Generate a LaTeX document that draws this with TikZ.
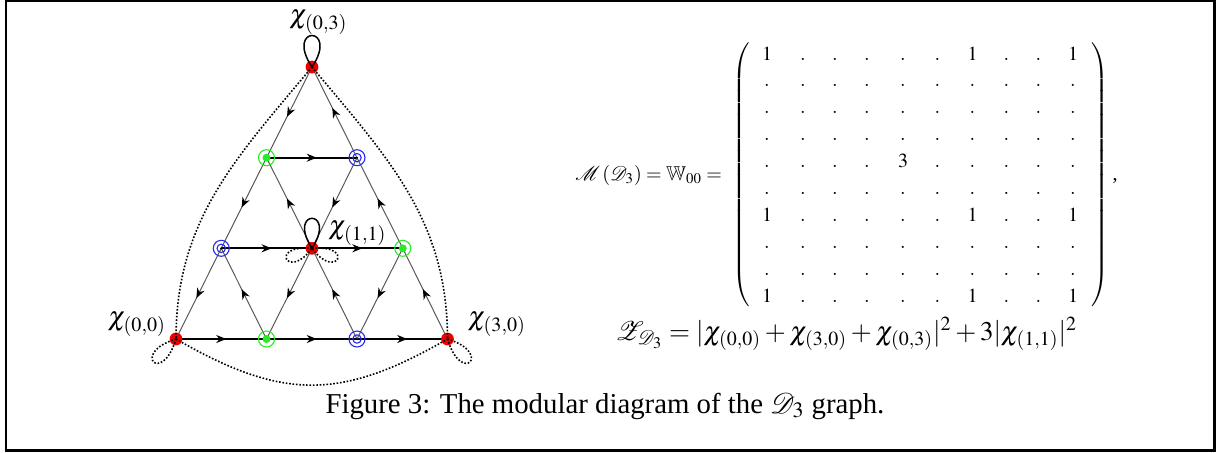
\documentclass[tikz,border=0pt]{standalone}
\usepackage{mathptmx}
\usepackage{amssymb}
\usepackage{fontspec}
\setmainfont{Liberation Serif}
\usetikzlibrary{arrows.meta,decorations.markings,backgrounds}
\definecolor{cred}{RGB}{238,0,0}
\definecolor{cgreen}{RGB}{40,235,40}
\definecolor{cblue}{RGB}{40,40,240}
\begin{document}
\begin{tikzpicture}[x=0.5pt,y=-0.5pt,
  vtxred/.style={circle,fill=cred,inner sep=0pt,minimum size=6.4pt},
  vtxgreen/.style={circle,draw=cgreen,line width=0.55pt,inner sep=0pt,minimum size=8pt,
    path picture={\fill[cgreen] (path picture bounding box.center) circle (2pt);}},
  vtxblue/.style={circle,draw=cblue,line width=0.55pt,inner sep=0pt,minimum size=8pt,
    path picture={\draw[cblue,line width=0.55pt] (path picture bounding box.center) circle (2.1pt);
      \fill[black] (path picture bounding box.center) circle (0.6pt);}},
  midarr/.style={postaction={decorate},decoration={markings,
    mark=at position 0.5 with {\arrow[xshift=2.5pt]{Stealth[length=5pt,width=4pt,color=black]}}}},
  hedge/.style={line width=1.1pt,black,midarr},
  dedge/.style={line width=0.5pt,black!65,midarr},
  loopsolid/.style={line width=0.75pt,black},
  loopdot/.style={line width=0.8pt,black,dash pattern=on 0.8pt off 0.9pt},
  outer/.style={line width=0.8pt,black,dash pattern=on 0.8pt off 0.9pt},
  lab/.style={font=\fontsize{13.6}{16}\selectfont,inner sep=0pt},
  ent/.style={anchor=base,inner sep=0pt,font=\fontsize{10}{12}\selectfont}]
\useasboundingbox (0,0) rectangle (1217,452);
\draw[line width=1.1pt] (6,1.2) rectangle (1214.5,450.5);

% vertices
\node[vtxred]   (n03) at (312,67) {};
\node[vtxgreen] (g1)  at (266.5,157.7) {};
\node[vtxblue]  (b1)  at (357,157.7) {};
\node[vtxblue]  (b2)  at (221.25,248.3) {};
\node[vtxred]   (n11) at (312,248.3) {};
\node[vtxgreen] (g2)  at (402.75,248.3) {};
\node[vtxred]   (n00) at (176,339) {};
\node[vtxgreen] (g3)  at (266.5,339) {};
\node[vtxblue]  (b3)  at (357,339) {};
\node[vtxred]   (n30) at (447.5,339) {};

\begin{pgfonlayer}{background}
% horizontal edges
\draw[hedge] (g1.center) -- (b1.center);
\draw[hedge] (b2.center) -- (n11.center);
\draw[hedge] (n11.center) -- (g2.center);
\draw[hedge] (n00.center) -- (g3.center);
\draw[hedge] (g3.center) -- (b3.center);
\draw[hedge] (b3.center) -- (n30.center);
% down-left edges
\draw[dedge] (n03.center) -- (g1.center);
\draw[dedge] (g1.center) -- (b2.center);
\draw[dedge] (b1.center) -- (n11.center);
\draw[dedge] (b2.center) -- (n00.center);
\draw[dedge] (n11.center) -- (g3.center);
\draw[dedge] (g2.center) -- (b3.center);
% up-left edges
\draw[dedge] (b1.center) -- (n03.center);
\draw[dedge] (n11.center) -- (g1.center);
\draw[dedge] (g2.center) -- (b1.center);
\draw[dedge] (g3.center) -- (b2.center);
\draw[dedge] (b3.center) -- (n11.center);
\draw[dedge] (n30.center) -- (g2.center);
\end{pgfonlayer}

% loops
\draw[loopsolid] (n03.center) .. controls +(-28,-42) and +(28,-42) .. (n03.center);
\draw[loopsolid] (n11.center) .. controls +(-26,-40) and +(26,-40) .. (n11.center);
\draw[loopdot] (n11.center) .. controls +(-44,-4) and +(-24,33) .. (n11.center);
\draw[loopdot] (n11.center) .. controls +(44,-4) and +(24,33) .. (n11.center);
\draw[loopdot] (n00.center) .. controls +(-46,14) and +(-14,47) .. (n00.center);
\draw[loopdot] (n30.center) .. controls +(46,14) and +(14,47) .. (n30.center);

% outer dotted curves
\draw[outer] (n03.center) .. controls +(-76,91) and +(0,-119) .. (n00.center);
\draw[outer] (n03.center) .. controls +(76,91) and +(0,-119) .. (n30.center);
\draw[outer] (n00.center) .. controls +(106.5,61.5) and +(-106.5,61.5) .. (n30.center);

% labels
\node[lab] (l03) at (318.5,22) {$\chi_{(0,3)}$};
\node[lab] (l11) at (357.5,233) {$\chi_{(1,1)}$};
\node[lab] (l00) at (137,324) {$\chi_{(0,0)}$};
\node[lab] (l30) at (497,324) {$\chi_{(3,0)}$};

% matrix equation
\node[anchor=base west,inner sep=0pt,font=\fontsize{10}{12}\selectfont] (mlhs) at (575,180)
  {$\mathcal{M}\,(\mathcal{D}_3)=\mathbb{W}_{00}=$};
\node[inner sep=0pt,font=\fontsize{10}{12}\selectfont] (lpar) at (742,175.5)
  {$\left(\vphantom{\rule[-64pt]{0pt}{128pt}}\right.$};
\node[inner sep=0pt,font=\fontsize{10}{12}\selectfont] (rpar) at (1099,175.5)
  {$\left.\vphantom{\rule[-64pt]{0pt}{128pt}}\right)$};
\node[ent] (comma) at (1115,180) {,};

\foreach \x/\v [count=\j] in {767/1,803/.,835/.,867/.,903/.,937.5/.,972.5/1,1006.5/.,1038.5/.,1073/1}
  \node[ent] (m1-\j) at (\x,60) {$\v$};
\foreach \x [count=\j] in {767,803,835,867,903,937.5,972.5,1006.5,1038.5,1073}
  \node[ent] (m2-\j) at (\x,86.9) {$.$};
\foreach \x [count=\j] in {767,803,835,867,903,937.5,972.5,1006.5,1038.5,1073}
  \node[ent] (m3-\j) at (\x,113.8) {$.$};
\foreach \x [count=\j] in {767,803,835,867,903,937.5,972.5,1006.5,1038.5,1073}
  \node[ent] (m4-\j) at (\x,140.7) {$.$};
\foreach \x/\v [count=\j] in {767/.,803/.,835/.,867/.,903/3,937.5/.,972.5/.,1006.5/.,1038.5/.,1073/.}
  \node[ent] (m5-\j) at (\x,167.6) {$\v$};
\foreach \x [count=\j] in {767,803,835,867,903,937.5,972.5,1006.5,1038.5,1073}
  \node[ent] (m6-\j) at (\x,194.5) {$.$};
\foreach \x/\v [count=\j] in {767/1,803/.,835/.,867/.,903/.,937.5/.,972.5/1,1006.5/.,1038.5/.,1073/1}
  \node[ent] (m7-\j) at (\x,221.4) {$\v$};
\foreach \x [count=\j] in {767,803,835,867,903,937.5,972.5,1006.5,1038.5,1073}
  \node[ent] (m8-\j) at (\x,248.3) {$.$};
\foreach \x [count=\j] in {767,803,835,867,903,937.5,972.5,1006.5,1038.5,1073}
  \node[ent] (m9-\j) at (\x,275.2) {$.$};
\foreach \x/\v [count=\j] in {767/1,803/.,835/.,867/.,903/.,937.5/.,972.5/1,1006.5/.,1038.5/.,1073/1}
  \node[ent] (m10-\j) at (\x,302.1) {$\v$};

% partition function
\node[anchor=base west,inner sep=0pt,font=\fontsize{13.5}{16}\selectfont] (zeq) at (615,340)
  {$\mathcal{Z}_{\mathcal{D}_3}=|\chi_{(0,0)}+\chi_{(3,0)}+\chi_{(0,3)}|^2+3|\chi_{(1,1)}|^2$};

% caption
\node[anchor=base,inner sep=0pt,font=\fontsize{14.4}{17}\selectfont] (cap) at (605,413)
  {Figure 3: The modular diagram of the $\mathcal{D}_3$ graph.};
\end{tikzpicture}
\end{document}
